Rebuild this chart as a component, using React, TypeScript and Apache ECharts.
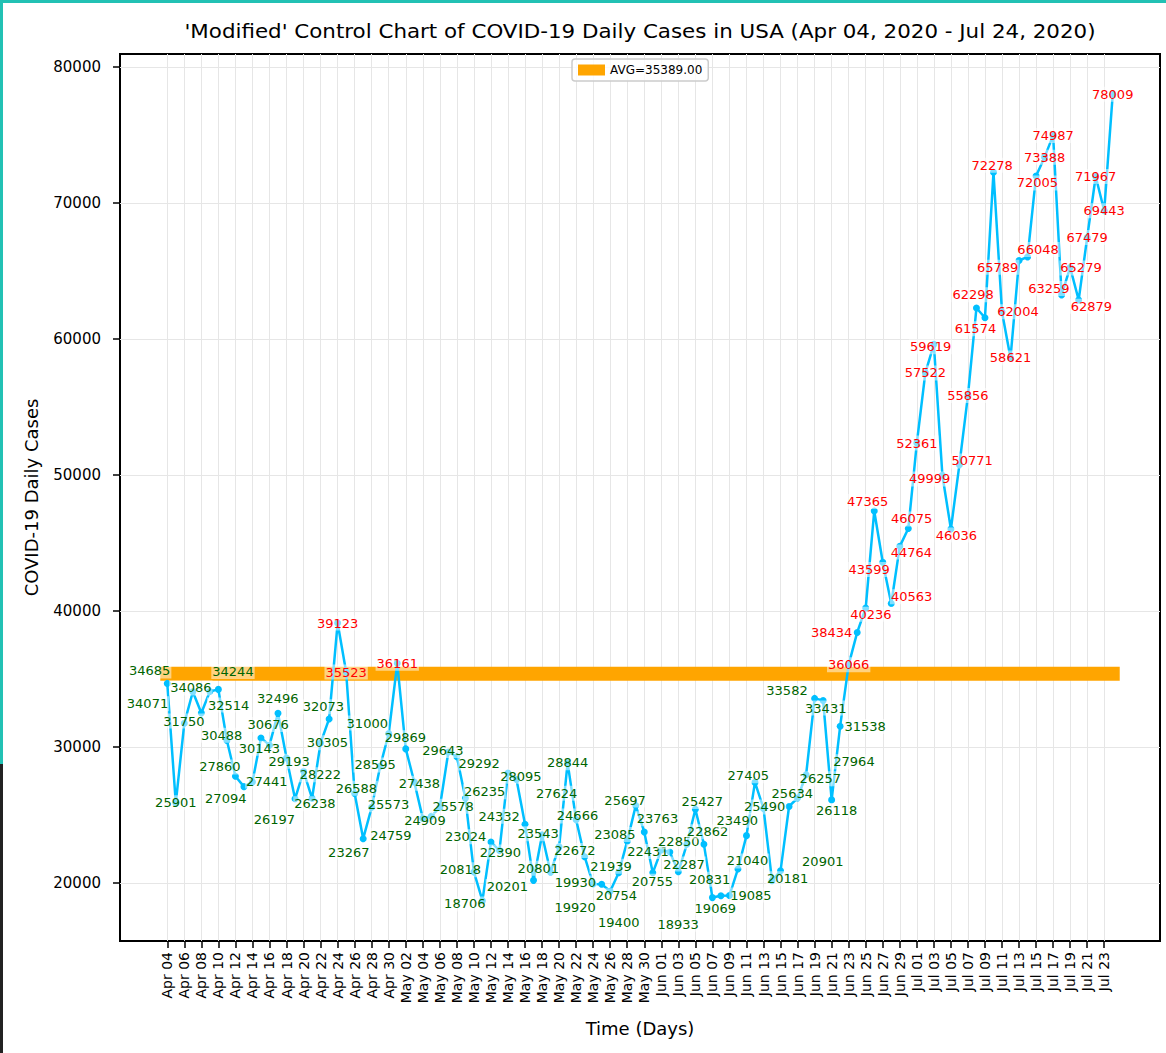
import React, { useEffect, useRef } from 'react';
import * as echarts from 'echarts';

// Daily new cases, Apr 04 2020 .. Jul 24 2020 (one value per day)
const dailyCases = [
  34685, 25901, 31750, 34071, 32514, 34086, 34244, 30488, 27860, 27094,
  27441, 30676, 30143, 32496, 29193, 26197, 28222, 26238, 30305, 32073,
  39123, 35523, 26588, 23267, 25573, 28595, 31000, 36161, 29869, 27438,
  24759, 24909, 25578, 29643, 29292, 26235, 20818, 18706, 23024, 22390,
  28095, 27624, 24332, 20201, 23543, 20801, 22672, 28844, 24666, 21939,
  19930, 19920, 19400, 20754, 23085, 25697, 23763, 20755, 22431, 22287,
  20831, 22850, 25427, 22862, 18933, 19069, 19085, 21040, 23490, 27405,
  25490, 20181, 20901, 25634, 26257, 27964, 33582, 33431, 26118, 31538,
  36066, 38434, 40236, 47365, 43599, 40563, 44764, 46075, 52361, 57522,
  59619, 49999, 46036, 50771, 55856, 62298, 61574, 72278, 62004, 58621,
  65789, 66048, 72005, 73388, 74987, 63259, 65279, 62879, 67479, 71967,
  69443, 78009,
];

const MONTHS = ['Jan', 'Feb', 'Mar', 'Apr', 'May', 'Jun', 'Jul', 'Aug', 'Sep', 'Oct', 'Nov', 'Dec'];
const dates = dailyCases.map((_, i) => {
  const d = new Date(Date.UTC(2020, 3, 4 + i));
  return `${MONTHS[d.getUTCMonth()]} ${String(d.getUTCDate()).padStart(2, '0')}`;
});
const xTickIdx = dates.map((_, i) => i).filter((i) => i % 2 === 0);
const yTicks = [20000, 30000, 40000, 50000, 60000, 70000, 80000];

const TITLE = "'Modified' Control Chart of COVID-19 Daily Cases in USA (Apr 04, 2020 - Jul 24, 2020)";
const FONT = 'DejaVu Sans';

const GRID = { left: 120, right: 6, top: 54, bottom: 112 };
const W = 1166;
const H = 1053;

// simple text-repel layout (in the spirit of adjustText): labels start centred
// on their points, are pushed apart where they overlap and are pulled back
// gently towards their own points
function repelLabels(px: number[], py: number[], bw: number, bh: number) {
  const n = px.length;
  const lx = px.slice();
  const ly = py.slice();
  const ew = bw * 1.03;
  const eh = bh * 1.12;
  const xLo = GRID.left + bw / 2 + 1;
  const xHi = W - GRID.right - bw / 2 - 1;
  const yLo = GRID.top + bh / 2 + 1;
  const yHi = H - GRID.bottom - bh / 2 - 1;
  const k = 0.03;
  for (let it = 0; it < 1500; it++) {
    const mx = new Array(n).fill(0);
    const my = new Array(n).fill(0);
    for (let i = 0; i < n; i++) {
      for (let j = i + 1; j < n; j++) {
        const dx = lx[j] - lx[i];
        const dy = ly[j] - ly[i];
        const ox = ew - Math.abs(dx);
        const oy = eh - Math.abs(dy);
        if (ox > 0 && oy > 0) {
          const sx = dx === 0 ? 1 : Math.sign(dx);
          const sy = dy === 0 ? (py[j] <= py[i] ? -1 : 1) : Math.sign(dy);
          mx[i] -= sx * ox * 0.12;
          mx[j] += sx * ox * 0.12;
          my[i] -= sy * oy * 0.25;
          my[j] += sy * oy * 0.25;
        }
      }
    }
    let maxMove = 0;
    for (let i = 0; i < n; i++) {
      const ddx = mx[i] + (px[i] - lx[i]) * k;
      const ddy = my[i] + (py[i] - ly[i]) * k;
      maxMove = Math.max(maxMove, Math.abs(ddx), Math.abs(ddy));
      lx[i] = Math.min(xHi, Math.max(xLo, lx[i] + ddx));
      ly[i] = Math.min(yHi, Math.max(yLo, ly[i] + ddy));
    }
    if (maxMove < 0.005) break;
  }
  return { lx, ly };
}

export default function App() {
  const ref = useRef<HTMLDivElement>(null);

  useEffect(() => {
    if (!ref.current) return;
    const chart = echarts.init(ref.current, undefined, { renderer: 'svg' });

    const n = dailyCases.length;
    const avg = dailyCases.reduce((a, b) => a + b, 0) / n;
    const avgName = `AVG=${avg.toFixed(2)}`;
    const vMin = Math.min(...dailyCases);
    const vMax = Math.max(...dailyCases);
    const ySpan = vMax - vMin;
    const yMin = vMin - 0.05 * ySpan;
    const yMax = vMax + 0.05 * ySpan;
    const xSpan = n - 1;
    const xMin = -0.05 * xSpan;
    const xMax = xSpan + 0.05 * xSpan;

    const baseLabel = {
      show: true,
      fontSize: 13,
      fontFamily: FONT,
      padding: [1, 1],
      backgroundColor: 'rgba(255,255,255,0.5)',
      formatter: (p: any) => String(p.value[1]),
    };

    const buildData = (offsets?: { lx: number[]; ly: number[] }, px?: number[], py?: number[]) =>
      dailyCases.map((v, i) => ({
        value: [i, v],
        label: {
          position: 'inside',
          offset: offsets && px && py ? [offsets.lx[i] - px[i], offsets.ly[i] - py[i]] : [0, 0],
          color: v > avg ? '#ff0000' : '#006400',
        },
      }));

    chart.setOption({
      animation: false,
      backgroundColor: '#ffffff',
      textStyle: { fontFamily: FONT },
      legend: {
        data: [avgName],
        top: 59,
        left: 572,
        icon: 'rect',
        itemWidth: 27,
        itemHeight: 11,
        itemGap: 8,
        padding: [5, 6],
        borderColor: '#cccccc',
        borderWidth: 1.5,
        borderRadius: 3,
        backgroundColor: 'rgba(255,255,255,0.8)',
        textStyle: { fontSize: 12, color: '#000', fontFamily: FONT },
      },
      grid: {
        left: GRID.left,
        right: GRID.right,
        top: GRID.top,
        bottom: GRID.bottom,
        show: true,
        borderColor: '#000',
        borderWidth: 2,
        backgroundColor: 'transparent',
      },
      xAxis: {
        type: 'value',
        min: xMin,
        max: xMax,
        name: 'Time (Days)',
        nameLocation: 'middle',
        nameGap: 78,
        nameTextStyle: { fontSize: 18, color: '#000', fontFamily: FONT },
        axisLine: { show: false, onZero: false },
        axisTick: { show: true, customValues: xTickIdx, length: 7, lineStyle: { color: '#000', width: 1.5 } },
        axisLabel: {
          customValues: xTickIdx,
          rotate: 90,
          margin: 11,
          fontSize: 14,
          color: '#000',
          fontFamily: FONT,
          formatter: (v: number) => dates[Math.round(v)] ?? '',
        },
        splitLine: { show: true, lineStyle: { color: '#e6e6e6', width: 1 } },
      },
      yAxis: {
        type: 'value',
        min: yMin,
        max: yMax,
        name: 'COVID-19 Daily Cases',
        nameLocation: 'middle',
        nameGap: 80,
        nameTextStyle: { fontSize: 18, color: '#000', fontFamily: FONT },
        axisLine: { show: false, onZero: false },
        axisTick: { show: true, customValues: yTicks, length: 7, lineStyle: { color: '#000', width: 1.5 } },
        axisLabel: {
          customValues: yTicks,
          margin: 19,
          fontSize: 15,
          color: '#000',
          fontFamily: FONT,
          formatter: (v: number) => String(Math.round(v)),
        },
        splitLine: { show: true, lineStyle: { color: '#e6e6e6', width: 1 } },
      },
      graphic: [
        {
          type: 'text',
          x: 640,
          y: 31,
          scaleX: 1.07,
          style: {
            text: TITLE,
            fontSize: 20,
            fontFamily: FONT,
            fill: '#000',
            align: 'center',
            verticalAlign: 'middle',
          },
        },
        { type: 'rect', shape: { x: 0, y: 0, width: W, height: 3 }, style: { fill: '#22c1b4' }, z: 100 },
        { type: 'rect', shape: { x: 0, y: 0, width: 3, height: 764 }, style: { fill: '#22c1b4' }, z: 100 },
        { type: 'rect', shape: { x: 0, y: 764, width: 3, height: H - 764 }, style: { fill: '#222222' }, z: 100 },
      ],
      series: [
        {
          name: avgName,
          type: 'line',
          data: [[0, avg], [n - 1, avg]],
          symbol: 'none',
          silent: true,
          z: 2,
          lineStyle: { color: '#FFA500', width: 14, cap: 'square' },
          itemStyle: { color: '#FFA500' },
        },
        {
          name: 'Daily Cases',
          type: 'line',
          data: buildData(),
          symbol: 'circle',
          symbolSize: 7,
          z: 3,
          lineStyle: { color: '#00BFFF', width: 2.5 },
          itemStyle: { color: '#00BFFF' },
          label: baseLabel,
        },
      ],
    });

    // place the value labels with a repel pass in pixel space
    const px: number[] = [];
    const py: number[] = [];
    dailyCases.forEach((v, i) => {
      const p = chart.convertToPixel({ xAxisIndex: 0, yAxisIndex: 0 }, [i, v]) as number[];
      px.push(p[0]);
      py.push(p[1]);
    });
    const labelW = 13 * 0.636 * 5 + 3;
    const labelH = 16.5;
    const offsets = repelLabels(px, py, labelW, labelH);
    chart.setOption({ series: [{}, { data: buildData(offsets, px, py) }] });

    return () => chart.dispose();
  }, []);

  return (
    <div
      ref={ref}
      style={{ position: 'fixed', left: 0, top: 0, width: W, height: H, background: '#fff' }}
    />
  );
}
